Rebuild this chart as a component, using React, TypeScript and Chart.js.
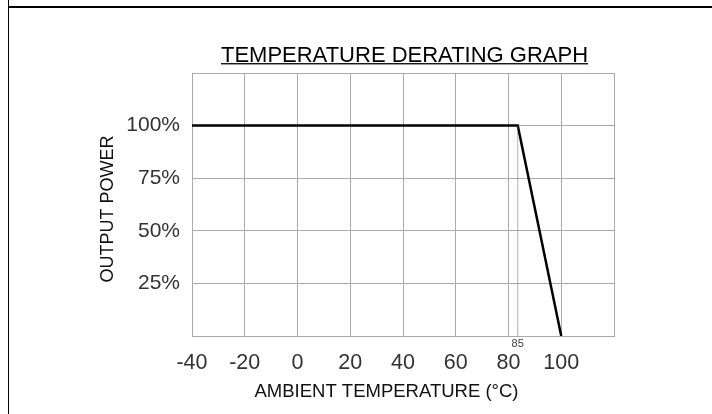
import React, { useEffect, useRef } from "react";
import { Chart, registerables } from "chart.js";

Chart.register(...registerables);

const curveX = [-40, 83.5, 100];
const curveY = [100, 100, 0];
const markerX = 83.5;
const markerLabel = "85";
const xTickValues = [-40, -20, 0, 20, 40, 60, 80, 100];
const yTickValues = [25, 50, 75, 100];
const titleText = "TEMPERATURE DERATING GRAPH";
const xTitle = "AMBIENT TEMPERATURE (°C)";
const yTitle = "OUTPUT POWER";

const FONT = "'Liberation Sans', Arial, sans-serif";

const overlayPlugin = {
  id: "overlay",
  afterDraw(chart: any) {
    const { ctx, chartArea, scales } = chart;
    ctx.save();
    // title
    ctx.font = `22px ${FONT}`;
    ctx.fillStyle = "#000";
    ctx.textAlign = "left";
    ctx.textBaseline = "alphabetic";
    const w = ctx.measureText(titleText).width;
    const cx = (chartArea.left + chartArea.right) / 2 + 1.5;
    const ty = 61.5;
    const tx = cx - w / 2;
    ctx.fillText(titleText, tx, ty);
    ctx.fillRect(tx, ty + 1.6, w, 1.3);
    // x axis title
    ctx.font = `18.5px ${FONT}`;
    ctx.fillStyle = "#111";
    ctx.textAlign = "center";
    ctx.textBaseline = "middle";
    ctx.fillText(xTitle, cx - 18, 392);
    // y axis title
    ctx.save();
    ctx.translate(108, 209);
    ctx.rotate(-Math.PI / 2);
    ctx.font = `18px ${FONT}`;
    ctx.fillText(yTitle, 0, 0);
    ctx.restore();
    // marker label
    const mx = scales.x.getPixelForValue(markerX);
    ctx.font = `11px ${FONT}`;
    ctx.fillStyle = "#444";
    ctx.textBaseline = "top";
    ctx.fillText(markerLabel, mx, chartArea.bottom + 2);
    ctx.restore();
  },
};

export default function App() {
  const ref = useRef<HTMLCanvasElement>(null);
  useEffect(() => {
    document.body.style.margin = "0";
    const chart = new Chart(ref.current!, {
      type: "scatter",
      data: {
        datasets: [
          {
            data: [
              { x: markerX, y: curveY[0] },
              { x: markerX, y: 0 },
            ],
            showLine: true,
            borderColor: "#666",
            borderWidth: 1,
            borderDash: [1, 1],
            pointRadius: 0,
          },
          {
            data: curveX.map((x, i) => ({ x, y: curveY[i] })),
            showLine: true,
            borderColor: "#000",
            borderWidth: 2.5,
            pointRadius: 0,
          },
        ],
      },
      options: {
        animation: false,
        responsive: false,
        events: [],
        layout: { padding: { left: 0, top: 73, right: 98, bottom: 0 } },
        plugins: { legend: { display: false }, tooltip: { enabled: false } },
        scales: {
          x: {
            type: "linear",
            min: -40,
            max: 120,
            afterFit(s: any) {
              s.height = 78;
            },
            afterBuildTicks(s: any) {
              s.ticks = [...xTickValues, 120].map((v) => ({ value: v }));
            },
            ticks: {
              padding: 14,
              color: "#333",
              font: { family: FONT, size: 21.5 },
              callback: (v: any) => (xTickValues.includes(v) ? String(v) : ""),
              maxRotation: 0,
              autoSkip: false,
            },
            grid: { color: "#aaa", lineWidth: 1, drawTicks: false },
            border: { color: "#aaa", width: 1 },
          },
          y: {
            type: "linear",
            min: 0,
            max: 125,
            afterFit(s: any) {
              s.width = 192;
            },
            afterBuildTicks(s: any) {
              s.ticks = [0, ...yTickValues, 125].map((v) => ({ value: v }));
            },
            ticks: {
              padding: 12,
              color: "#333",
              font: { family: FONT, size: 21 },
              callback: (v: any) => (yTickValues.includes(v) ? `${v}%` : ""),
            },
            grid: { color: "#aaa", lineWidth: 1, drawTicks: false },
            border: { color: "#aaa", width: 1 },
          },
        },
      },
      plugins: [overlayPlugin],
    } as any);
    return () => chart.destroy();
  }, []);
  return (
    <div style={{ position: "relative", width: 712, height: 414, background: "#fff", overflow: "hidden" }}>
      <canvas ref={ref} width={712} height={414} style={{ position: "absolute", left: 0, top: 0 }} />
      <div style={{ position: "absolute", left: 8, top: 0, width: 1, height: 414, background: "#000" }} />
      <div style={{ position: "absolute", left: 8, top: 6, width: 704, height: 2, background: "#000" }} />
    </div>
  );
}
